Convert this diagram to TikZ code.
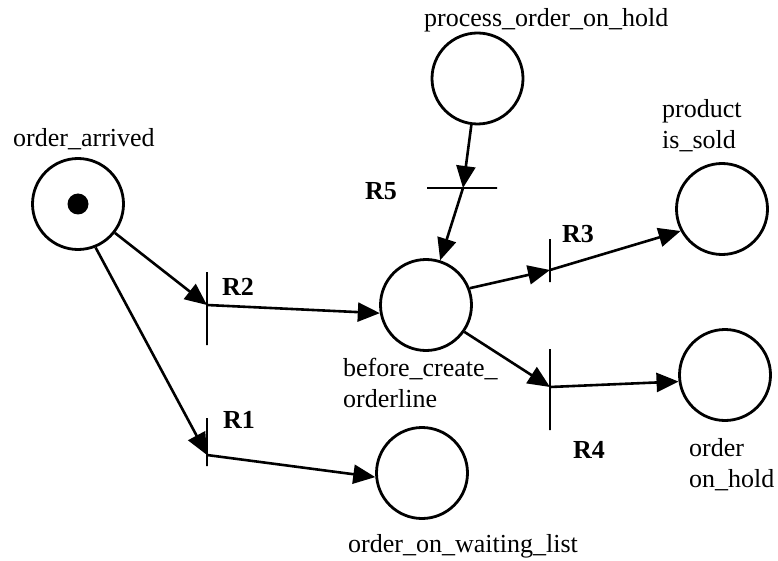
\documentclass[tikz,border=0pt]{standalone}
\usepackage{fontspec}
\setmainfont{Liberation Serif}
\usetikzlibrary{arrows.meta}
\begin{document}
\begin{tikzpicture}[x=1pt,y=-1pt,
  place/.style={circle,draw,line width=2.8pt,minimum size=91pt,inner sep=0pt},
  token/.style={circle,fill,minimum size=21pt,inner sep=0pt},
  vbar/.style={draw,line width=2.8pt,inner sep=0pt,minimum width=0pt,rectangle},
  lbl/.style={font=\fontsize{26}{31}\selectfont,inner sep=0pt,anchor=base west,align=left},
  rlbl/.style={font=\fontsize{26}{31}\selectfont\bfseries,inner sep=0pt,anchor=base west},
  arc/.style={line width=2.6pt,-{Triangle[length=22pt,width=19pt]}}]
\useasboundingbox (0,0) rectangle (778,561);
% places
\node[place] (oa) at (78,204) {};
\node[token] (tok) at (78,204) {};
\node[place] (pooh) at (477.5,78.5) {};
\node[place] (bco) at (426,305) {};
\node[place] (oowl) at (422,473) {};
\node[place] (ooh) at (725,375) {};
\node[place] (pis) at (722,209) {};
% transitions
\node[vbar,minimum height=73pt] (R2) at (207,308.5) {};
\node[vbar,minimum height=48pt] (R1) at (207,442) {};
\node[vbar,minimum height=43pt] (R3) at (550,260.5) {};
\node[vbar,minimum height=81pt] (R4) at (550,389.5) {};
\node[vbar,minimum width=70pt,minimum height=0pt] (R5) at (462,188) {};
\coordinate (t2) at (207,305);
\coordinate (t1) at (207,455);
\coordinate (t3) at (550,270);
\coordinate (t4) at (550,387);
\coordinate (t5) at (463,188);
% arcs
\draw[arc] (oa) -- (t2);
\draw[arc] (t2) -- (bco.190);
\draw[arc] (oa.292) -- (t1);
\draw[arc] (t1) -- (oowl.185);
\draw[arc] (pooh) -- (t5);
\draw[arc] (t5) -- (bco);
\draw[arc] (bco.21) -- (t3);
\draw[arc] (t3) -- (pis.208);
\draw[arc] (bco.325) -- (t4);
\draw[arc] (t4) -- (ooh.188);
% labels
\node[lbl] (Loa) at (13,147) {order\_arrived};
\node[lbl] (Lpooh) at (424,27) {process\_order\_on\_hold};
\node[lbl] (Lpis) at (662,149) {product\\is\_sold};
\node[lbl] (Lbco) at (343,407) {before\_create\_\\orderline};
\node[lbl] (Looh) at (689,487) {order\\on\_hold};
\node[lbl] (Loowl) at (348,552) {order\_on\_waiting\_list};
\node[rlbl] (LR2) at (222,295) {R2};
\node[rlbl] (LR1) at (223,428) {R1};
\node[rlbl] (LR5) at (365,200) {R5};
\node[rlbl] (LR3) at (562,242) {R3};
\node[rlbl] (LR4) at (573,458) {R4};
\end{tikzpicture}
\end{document}
